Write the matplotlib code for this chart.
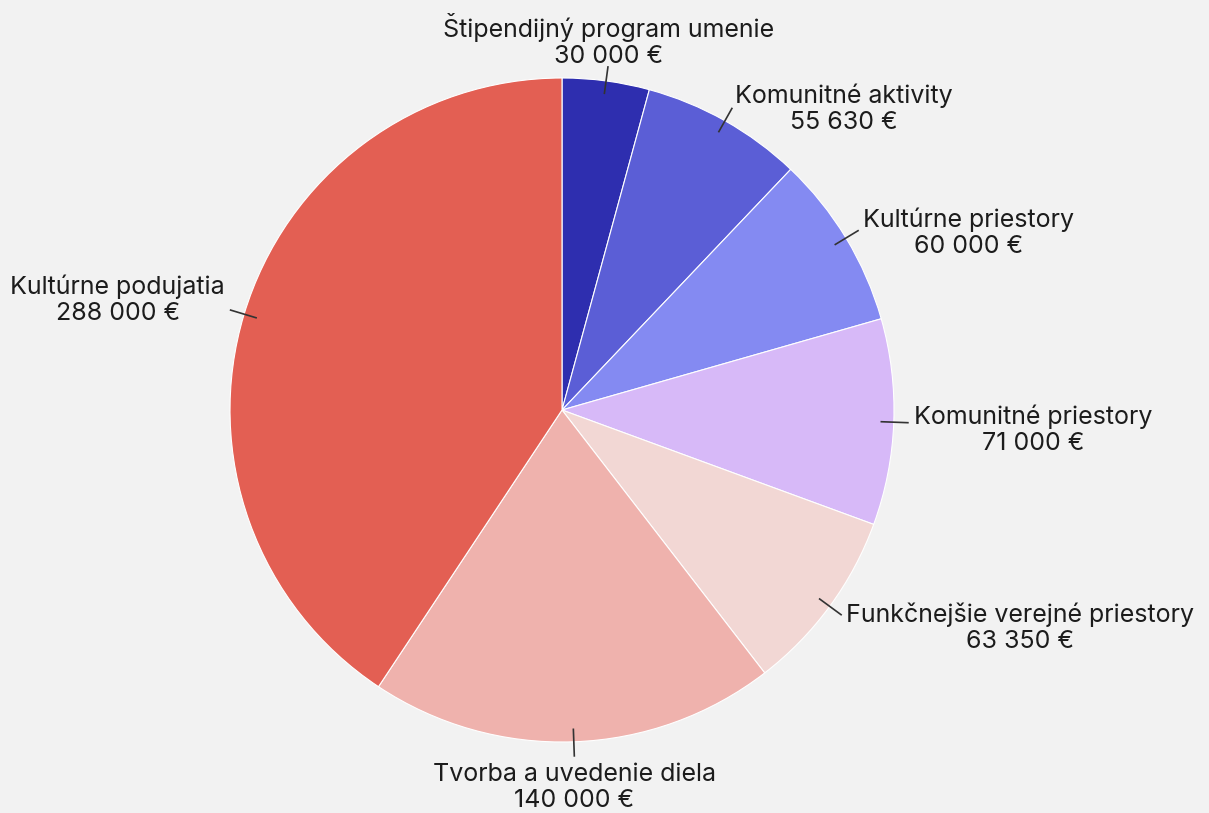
import numpy as np
import matplotlib
matplotlib.use("Agg")
import matplotlib.pyplot as plt

categories = ["Štipendijný program umenie", "Komunitné aktivity", "Kultúrne priestory",
              "Komunitné priestory", "Funkčnejšie verejné priestory",
              "Tvorba a uvedenie diela", "Kultúrne podujatia"]
values = [30000, 55630, 60000, 71000, 63350, 140000, 288000]
colors = ["#2e2eaf", "#5b5ed6", "#848af2", "#d7b9f8", "#f2d7d4", "#efb2ad", "#e35f53"]

def fmt(v):
    return f"{v:,}".replace(",", " ") + " €"

plt.rcParams['font.family'] = ['Inter', 'DejaVu Sans']
BG = "#f2f2f2"
fig = plt.figure(figsize=(12.09, 8.13), dpi=100, facecolor=BG)
W, H = 1209, 813
cx, cy, R = 562, 410, 332
ax = fig.add_axes([(cx - R) / W, (H - cy - R) / H, 2 * R / W, 2 * R / H])
ax.set_facecolor(BG)
wedges, _ = ax.pie(values, colors=colors, startangle=90, counterclock=False, radius=1,
                   wedgeprops=dict(edgecolor="white", linewidth=0.8))
ax.set_xlim(-1, 1)
ax.set_ylim(-1, 1)
ax.set_aspect("equal")
ax.axis("off")

# label layout (alignment per label)
layout = {
    0: dict(ha="center", va="bottom", dy=-0.02),
    1: dict(ha="left", va="center", dy=-0.015),
    2: dict(ha="left", va="center", dy=-0.015),
    3: dict(ha="left", va="center", dy=-0.02),
    4: dict(ha="left", va="center", dy=-0.03),
    5: dict(ha="center", va="top", dy=-0.005),
    6: dict(ha="right", va="center", dy=0.025),
}
for i, w in enumerate(wedges):
    ang = np.deg2rad((w.theta1 + w.theta2) / 2)
    c, s = np.cos(ang), np.sin(ang)
    ax.plot([0.96 * c, 1.045 * c], [0.96 * s, 1.045 * s], color="#333333", lw=1.2,
            clip_on=False, solid_capstyle="butt")
    L = layout[i]
    r = 1.06
    ax.text(r * c, r * s + L["dy"], f"{categories[i]}\n{fmt(values[i])}",
            ha=L["ha"], va=L["va"], multialignment="center", fontsize=18,
            color="#1c1c1c", linespacing=1.17, clip_on=False)

fig.savefig("out.png", dpi=100, facecolor=BG)
